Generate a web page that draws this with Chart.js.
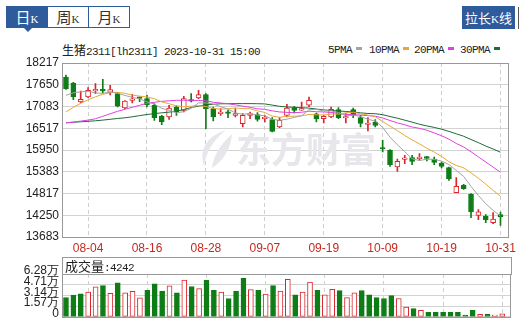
<!DOCTYPE html>
<html>
<head>
<meta charset="utf-8">
<script src="https://cdn.jsdelivr.net/npm/chart.js@4.4.1/dist/chart.umd.min.js"></script>
<style>
  html, body { margin: 0; padding: 0; background: #fff; }
  body { width: 520px; height: 327px; position: relative; overflow: hidden; font-family: "Liberation Sans", Arial, sans-serif; color: #222; }
  .tab { position: absolute; top: 6px; height: 22px; width: 42px; box-sizing: border-box; border: 1px solid #2d5b9b; background: #fff; color: #333; text-align: center; line-height: 20px; }
  .tab.on { background: #2d5b9b; color: #fff; }
  .cjk { font-family: "Noto Sans CJK SC", sans-serif; }
  .tab .cjk { font-size: 15px; }
  .tab .k { font-family: "Liberation Serif", serif; font-size: 11px; }
  #pointer { position: absolute; left: 24px; top: 28px; width: 0; height: 0; border-left: 4px solid transparent; border-right: 4px solid transparent; border-top: 4px solid #2d5b9b; }
  #stretch { position: absolute; left: 462px; top: 6px; width: 53px; height: 23px; background: #2d5b9b; color: #fff; font-size: 13px; line-height: 23px; text-align: center; font-family: "Noto Sans CJK SC", sans-serif; }
  #stretch .k { font-family: "Liberation Serif", serif; font-size: 11px; }
  #edge { position: absolute; left: 518px; top: 7px; width: 1px; height: 22px; background: #555; }
  .mono { font-family: "Liberation Mono", monospace; font-size: 11px; letter-spacing: -0.6px; }
  #title { position: absolute; left: 62px; top: 43px; line-height: 14px; white-space: nowrap; color: #222; }
  #title .cjk { font-size: 12px; }
  .lg { position: absolute; top: 43px; line-height: 14px; white-space: nowrap; color: #222; }
  .lg i { display: inline-block; width: 6px; height: 3px; margin-left: 4px; vertical-align: 3px; }
  #kline { position: absolute; left: 0; top: 40px; }
  #volHead { position: absolute; left: 62px; top: 257px; width: 450px; height: 18px; box-sizing: border-box; border: 1px solid #999; border-bottom: none; line-height: 16px; padding-left: 2px; white-space: nowrap; }
  #volHead .cjk { font-size: 13px; }
  #vol { position: absolute; left: 0; top: 250px; }
</style>
</head>
<body>
<div class="tab on" style="left:6px"><span class="cjk">日</span><span class="k">K</span></div>
<div class="tab" style="left:47px"><span class="cjk">周</span><span class="k">K</span></div>
<div class="tab" style="left:88px"><span class="cjk">月</span><span class="k">K</span></div>
<div id="pointer"></div>
<div id="stretch">拉长<span class="k">K</span>线</div>
<div id="edge"></div>

<div id="title"><span class="cjk">生猪</span><span class="mono">2311[lh2311] 2023-10-31 15:00</span></div>
<div class="lg mono" style="left:328px">5PMA<i style="background:#a3a3a3"></i></div>
<div class="lg mono" style="left:369px">10PMA<i style="background:#e6a83a"></i></div>
<div class="lg mono" style="left:414px">20PMA<i style="background:#e040e0"></i></div>
<div class="lg mono" style="left:460px">30PMA<i style="background:#1d6b3a"></i></div>

<canvas id="kline" width="520" height="217"></canvas>
<div id="volHead"><span class="cjk">成交量</span><span class="mono">:4242</span></div>
<canvas id="vol" width="520" height="77"></canvas>

<script>
const DATES = [
  '08-01','08-02','08-03','08-04','08-07','08-08','08-09','08-10','08-11','08-14',
  '08-15','08-16','08-17','08-18','08-21','08-22','08-23','08-24','08-25','08-28',
  '08-29','08-30','08-31','09-01','09-04','09-05','09-06','09-07','09-08','09-11',
  '09-12','09-13','09-14','09-15','09-18','09-19','09-20','09-21','09-22','09-25',
  '09-26','09-27','09-28','10-09','10-10','10-11','10-12','10-13','10-16','10-17',
  '10-18','10-19','10-20','10-23','10-24','10-25','10-26','10-27','10-30','10-31'
];
const X_TICKS = ['08-04','08-16','08-28','09-07','09-19','10-09','10-19','10-31'];

const OPEN = [
  17852,17696,17201,17331,17487,17532,17453,17420,17044,17245,
  17310,17289,17115,16836,16810,17070,16984,17240,17305,17393,
  17029,16898,16940,16854,16638,16854,16872,16768,16742,16549,
  16854,17044,16990,17115,16893,16768,16810,17003,16784,17003,
  16794,16615,16679,16012,15942,15507,15707,15752,15726,15778,
  15715,15611,15491,14840,15030,14795,14248,14222,14058,14266
];
const HIGH = [
  17904,17714,17487,17576,17680,17792,17636,17446,17237,17401,
  17331,17375,17159,16854,17115,17102,17349,17420,17506,17420,
  17070,17029,16984,17029,16898,16940,16924,16854,16794,16794,
  17141,17089,17201,17331,16914,16854,17070,17055,16898,17044,
  16854,16794,16742,16203,15960,15715,15812,15812,15856,15786,
  15767,15637,15507,15231,15056,14813,14396,14266,14318,14334
];
const LOW = [
  17530,17263,17185,17315,17420,17435,17383,17070,17029,17175,
  17211,17070,16724,16612,16750,16854,16940,17200,17289,16507,
  16706,16854,16794,16810,16549,16768,16698,16679,16419,16532,
  16810,16914,16984,17080,16679,16653,16794,16768,16653,16794,
  16549,16445,16549,15898,15525,15395,15595,15569,15681,15663,
  15569,15481,15160,14835,14926,14188,14136,14058,14032,13986
];
const CLOSE = [
  17550,17331,17271,17506,17532,17487,17524,17089,17227,17280,
  17295,17133,16794,16679,17044,16940,17289,17225,17393,17029,
  16810,16940,16906,16898,16854,16898,16750,16810,16437,16724,
  17044,16984,17010,17245,16763,16828,17011,16794,16810,16854,
  16645,16640,16593,15976,15569,15655,15741,15655,15767,15733,
  15629,15525,15204,15004,14944,14334,14340,14136,14150,14204
];
const PREV_CLOSE = 17820; // 07-31

const MA5 = [
  17375,17440,17466,17480,17438,17425,17464,17428,17372,17321,
  17283,17205,17146,17036,16989,16918,16949,17035,17178,17175,
  17149,17079,17016,16917,16882,16899,16861,16842,16750,16724,
  16753,16800,16840,17001,17009,16966,16971,16928,16841,16859,
  16823,16749,16708,16542,16285,16087,15907,15719,15677,15710,
  15705,15662,15572,15419,15261,15002,14764,14550,14377,14229
];
const MA10 = [
  16940,17063,17167,17258,17336,17401,17440,17453,17427,17380,
  17354,17334,17287,17204,17155,17101,17077,17091,17107,17082,
  17034,17014,17026,17047,17028,17024,16970,16929,16833,16803,
  16826,16831,16841,16876,16867,16860,16886,16884,16921,16934,
  16894,16860,16818,16691,16572,16455,16328,16214,16110,15997,
  15896,15784,15645,15548,15486,15354,15213,15061,14898,14745
];
const MA20 = [
  16659,16677,16703,16729,16763,16828,16893,16958,17010,17063,
  17115,17167,17193,17219,17232,17245,17245,17245,17240,17231,
  17194,17174,17156,17126,17092,17062,17024,17010,16970,16942,
  16930,16922,16933,16962,16947,16942,16928,16906,16877,16869,
  16860,16845,16830,16784,16719,16657,16607,16549,16515,16466,
  16395,16322,16232,16120,16029,15904,15770,15637,15504,15371
];
const MA30 = [
  16659,16672,16685,16698,16711,16729,16750,16771,16789,16815,
  16846,16875,16898,16919,16937,16958,17005,17055,17094,17128,
  17141,17154,17156,17159,17159,17159,17156,17151,17120,17088,
  17071,17060,17051,17042,17017,16995,16978,16968,16954,16940,
  16918,16902,16895,16871,16822,16779,16728,16676,16621,16578,
  16539,16492,16435,16372,16308,16223,16142,16053,15976,15892
];

const VOLUME = [
  28200,31800,33600,36300,43900,45700,34500,49800,35000,37200,
  27800,39000,48400,37700,45300,35000,53800,44400,41300,53800,
  39000,36300,26900,37700,56500,39900,39000,33200,45700,37700,
  55100,32300,36300,51100,39000,32300,40400,38300,28200,35000,
  38300,32300,28200,26900,31100,26900,14400,12100,9400,6700,
  6700,6700,6700,6700,2700,9400,3600,4000,2700,4242
];

const PRICE_TICKS = [13683, 14250, 14817, 15383, 15950, 16517, 17083, 17650, 18217];
const VOL_TICKS = [0, 15700, 31400, 47100, 62800];
const VOL_TICK_LABELS = ['0', '1.57万', '3.14万', '4.71万', '6.28万'];

const RED = '#d9262c';
const GREEN = '#0e7d16';
const SANS = '"Liberation Sans", Arial, sans-serif';
const X_MIN = -0.54, X_MAX = 60.18;

Chart.defaults.font.family = SANS;

const tickIdx = X_TICKS.map(d => DATES.indexOf(d));
const candleUp = CLOSE.map((c, i) => c >= OPEN[i]);
const volUp = CLOSE.map((c, i) => c >= (i === 0 ? PREV_CLOSE : CLOSE[i - 1]));

const frame = {
  id: 'frame',
  afterDatasetsDraw(chart) {
    const { ctx, chartArea: a } = chart;
    ctx.save();
    ctx.strokeStyle = '#999';
    ctx.lineWidth = 1;
    const l = Math.round(a.left), t = Math.round(a.top), r = Math.round(a.right), b = Math.round(a.bottom);
    ctx.strokeRect(l + 0.5, t + 0.5, r - l - 1, b - t);
    ctx.restore();
  }
};

// grey logo behind the candles
const watermark = {
  id: 'watermark',
  beforeDatasetsDraw(chart) {
    const ctx = chart.ctx;
    const top = 40;
    ctx.save();
    ctx.fillStyle = '#e7e7eb';
    ctx.font = 'bold 35px "Noto Sans CJK SC"';
    ctx.textBaseline = 'middle';
    ctx.fillText('东方财富', 236, 150 - top);
    ctx.beginPath();
    ctx.moveTo(226, 130 - top);
    ctx.quadraticCurveTo(196, 140 - top, 204, 167 - top);
    ctx.quadraticCurveTo(206, 146 - top, 226, 130 - top);
    ctx.fill();
    ctx.beginPath();
    ctx.moveTo(232, 134 - top);
    ctx.quadraticCurveTo(214, 150 - top, 212, 168 - top);
    ctx.quadraticCurveTo(230, 156 - top, 232, 134 - top);
    ctx.fill();
    ctx.restore();
  }
};

function xAxis(showLabels) {
  return {
    type: 'linear',
    min: X_MIN,
    max: X_MAX,
    offset: false,
    afterBuildTicks: s => { s.ticks = tickIdx.map(v => ({ value: v })); },
    afterFit: s => { s.height = showLabels ? 20 : 0; },
    ticks: {
      display: showLabels,
      autoSkip: false,
      maxRotation: 0,
      padding: 4,
      color: '#c8281e',
      font: { size: 12 },
      callback: v => DATES[v]
    },
    grid: { color: '#cfcfcf', drawTicks: false, offset: false },
    border: { display: false, dash: [4, 3] }
  };
}

const pts = arr => arr.map((v, i) => ({ x: i, y: v }));
const maLine = (arr, color) => ({
  type: 'line',
  data: pts(arr),
  borderColor: color,
  borderWidth: 1,
  pointRadius: 0,
  tension: 0,
  order: 0
});

new Chart(document.getElementById('kline'), {
  type: 'bar',
  data: {
    datasets: [
      {
        data: DATES.map((d, i) => ({ x: i, y: [OPEN[i], CLOSE[i]] })),
        backgroundColor: candleUp.map(u => (u ? '#fff' : GREEN)),
        borderColor: candleUp.map(u => (u ? RED : GREEN)),
        borderWidth: 1,
        borderSkipped: false,
        barThickness: 5,
        minBarLength: 1.5,
        grouped: false,
        order: 1
      },
      {
        data: DATES.map((d, i) => ({ x: i, y: [LOW[i], HIGH[i]] })),
        backgroundColor: candleUp.map(u => (u ? RED : GREEN)),
        borderWidth: 0,
        barThickness: 1,
        grouped: false,
        order: 2
      },
      maLine(MA5, '#a3a3a3'),
      maLine(MA10, '#e6a83a'),
      maLine(MA20, '#e040e0'),
      maLine(MA30, '#1d6b3a')
    ]
  },
  options: {
    responsive: false,
    animation: false,
    events: [],
    layout: { padding: { top: 23, right: 9, left: 0, bottom: 0 } },
    plugins: { legend: { display: false }, tooltip: { enabled: false } },
    scales: {
      x: xAxis(true),
      y: {
        type: 'linear',
        min: PRICE_TICKS[0],
        max: PRICE_TICKS[PRICE_TICKS.length - 1],
        afterBuildTicks: s => { s.ticks = PRICE_TICKS.map(v => ({ value: v })); },
        afterFit: s => { s.width = 62; },
        ticks: { autoSkip: false, color: '#222', font: { size: 12 }, padding: 3, callback: v => String(v) },
        grid: { color: '#d2d2d2', drawTicks: false },
        border: { display: false }
      }
    }
  },
  plugins: [watermark, frame]
});

new Chart(document.getElementById('vol'), {
  type: 'bar',
  data: {
    datasets: [{
      data: pts(VOLUME),
      backgroundColor: volUp.map(u => (u ? '#fff' : GREEN)),
      borderColor: volUp.map(u => (u ? RED : GREEN)),
      borderWidth: 1,
      borderSkipped: false,
      barThickness: 5,
      grouped: false
    }]
  },
  options: {
    responsive: false,
    animation: false,
    events: [],
    layout: { padding: { top: 24, right: 9, left: 0, bottom: 6 } },
    plugins: { legend: { display: false }, tooltip: { enabled: false } },
    scales: {
      x: xAxis(false),
      y: {
        type: 'linear',
        min: VOL_TICKS[0],
        max: VOL_TICKS[VOL_TICKS.length - 1],
        afterBuildTicks: s => { s.ticks = VOL_TICKS.map(v => ({ value: v })); },
        afterFit: s => { s.width = 62; },
        ticks: { autoSkip: false, color: '#222', font: { size: 12 }, padding: 3, labelOffset: -3, callback: (v, i) => VOL_TICK_LABELS[i] },
        grid: { color: '#d2d2d2', drawTicks: false },
        border: { display: false }
      }
    }
  },
  plugins: [frame]
});
</script>
</body>
</html>
